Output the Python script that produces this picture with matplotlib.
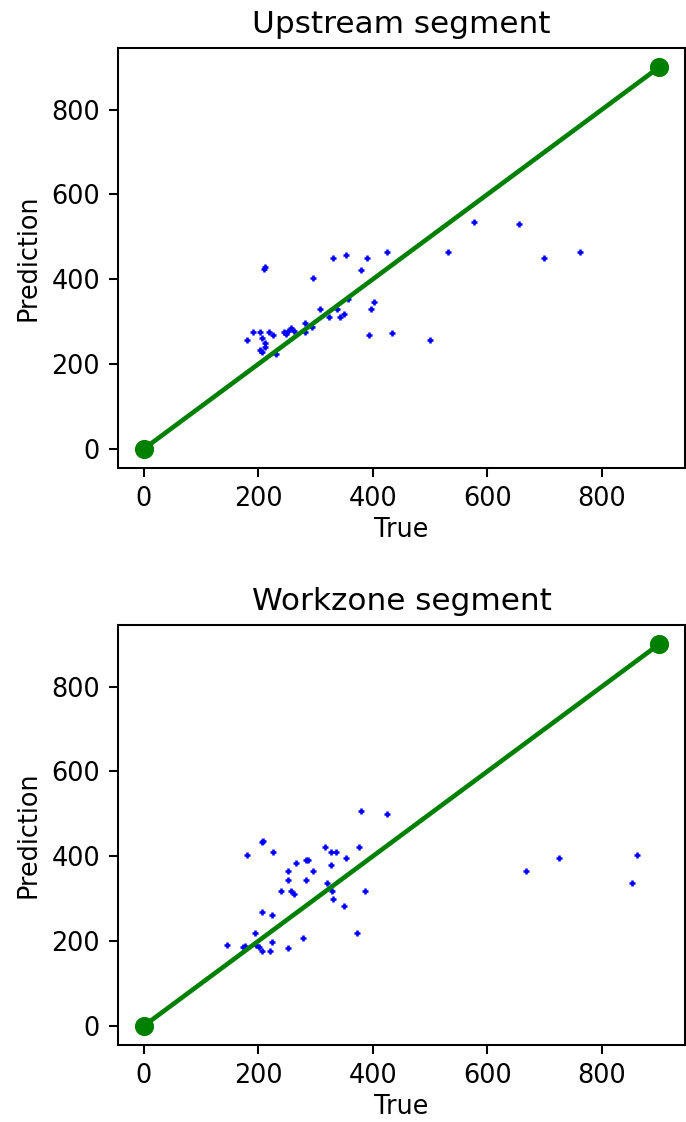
import matplotlib
matplotlib.use("Agg")
import matplotlib.pyplot as plt

# Upstream segment data (True, Prediction)
up_true = [181, 191, 203, 207, 211, 203, 207, 212, 212, 210, 218, 226, 230, 245, 248, 252,
           257, 263, 282, 282, 293, 296, 308, 323, 331, 338, 342, 350, 353, 357, 380, 389,
           393, 397, 402, 425, 434, 500, 531, 576, 655, 699, 761]
up_pred = [256, 275, 275, 262, 250, 233, 229, 241, 428, 425, 275, 268, 224, 275, 271, 279,
           284, 277, 275, 296, 288, 402, 330, 311, 451, 330, 311, 318, 457, 353, 421, 451,
           268, 329, 347, 463, 273, 256, 463, 536, 529, 451, 463]

# Workzone segment data (True, Prediction)
wz_true = [145, 173, 177, 181, 194, 196, 202, 207, 207, 209, 207, 220, 224, 224, 226, 239,
           252, 252, 252, 257, 262, 266, 278, 283, 284, 287, 296, 317, 320, 327, 327, 329,
           331, 335, 350, 353, 372, 376, 380, 386, 425, 667, 725, 853, 862]
wz_pred = [190, 186, 188, 403, 220, 190, 186, 177, 269, 437, 433, 177, 197, 262, 409, 318,
           184, 343, 366, 318, 311, 385, 208, 343, 391, 391, 366, 422, 337, 409, 379, 318,
           300, 409, 282, 396, 220, 422, 506, 318, 500, 366, 396, 337, 403]

ref_line = [0, 900]

fig = plt.figure(figsize=(686 / 184, 1122 / 184), dpi=184)
ax1 = fig.add_axes([118 / 686, 1 - 468 / 1122, 567 / 686, 420 / 1122])
ax2 = fig.add_axes([118 / 686, 1 - 1045 / 1122, 567 / 686, 420 / 1122])

for ax, xs, ys, title in [(ax1, up_true, up_pred, "Upstream segment"),
                          (ax2, wz_true, wz_pred, "Workzone segment")]:
    ax.scatter(xs, ys, marker='+', s=7, c='blue', linewidths=1.0)
    ax.plot(ref_line, ref_line, 'go-', linewidth=1.8, markersize=6.5)
    ax.set_title(title, fontsize=12.2)
    ax.set_xlabel("True", labelpad=2)
    ax.set_ylabel("Prediction")
    ax.set_xticks([0, 200, 400, 600, 800])
    ax.set_yticks([0, 200, 400, 600, 800])

fig.savefig("out.png", dpi=184)
